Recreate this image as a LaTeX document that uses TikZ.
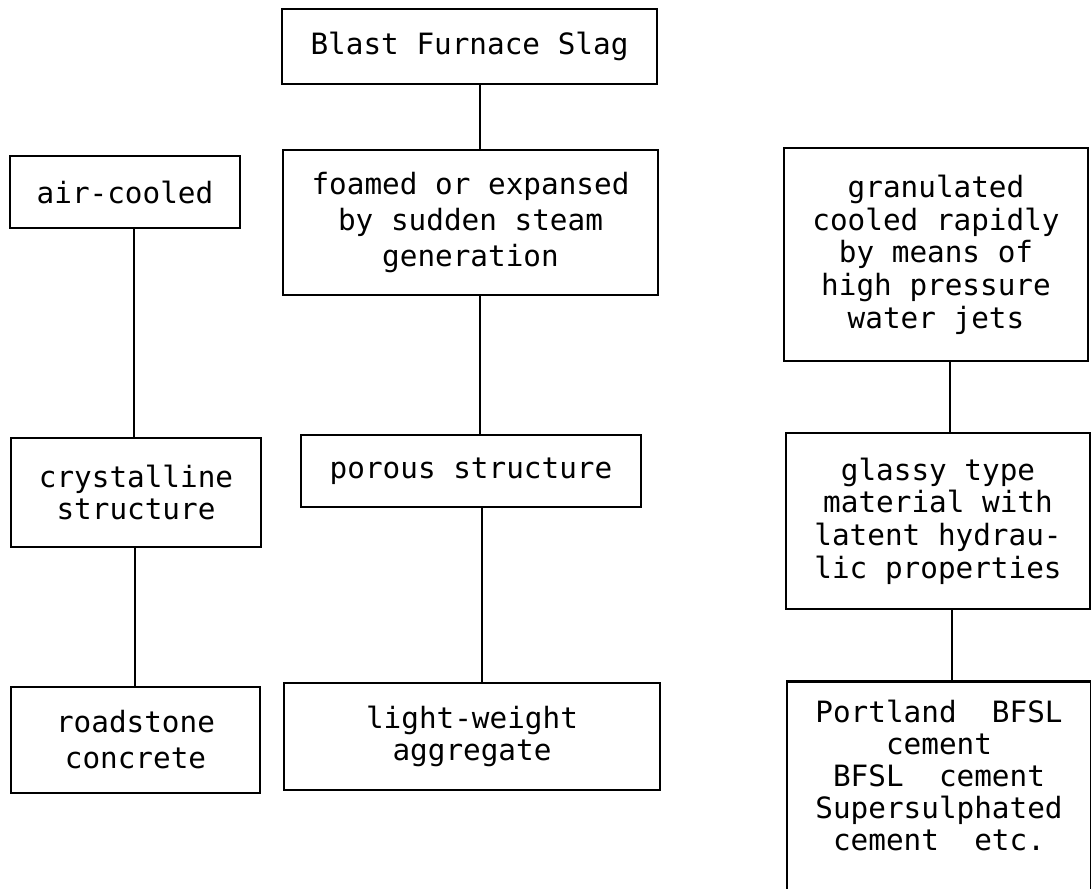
\documentclass[tikz,border=0pt]{standalone}
\usepackage{fontspec}
\setmonofont{DejaVu Sans Mono}

\tikzset{every picture/.style={line width=0.75pt}}
\tikzset{
  flowbox/.style={draw, line width=2pt, align=center, inner sep=0pt,
    font=\ttfamily\fontsize{22pt}{24.5pt}\selectfont},
  flowtext/.style={align=center, inner sep=0pt,
    font=\ttfamily\fontsize{22pt}{24pt}\selectfont},
  widelines/.style={font=\ttfamily\fontsize{22pt}{27pt}\selectfont},
  link/.style={line width=1.5pt}
}

\begin{document}
\begin{tikzpicture}[x=0.75pt,y=0.75pt,yscale=-1,xscale=1]
\useasboundingbox (0,0) rectangle (1091,888);
\clip (0,0) rectangle (1091,888);

%Shape: Rectangle
\node [flowbox, minimum width=281.25pt, minimum height=56.25pt] (slag) at (469.5,46.5) {Blast Furnace Slag};
%Shape: Rectangle
\node [flowbox, minimum width=172.5pt, minimum height=54pt] (aircool) at (125,192) {air-cooled};
%Shape: Rectangle
\node [flowbox, widelines, minimum width=281.25pt, minimum height=108.75pt] (foamed) at (470.5,222.5) {foamed or expansed\\by sudden steam\\generation};
%Shape: Rectangle
\node [flowbox, minimum width=228pt, minimum height=159.75pt] (granul) at (936,254.5) {granulated\\cooled rapidly\\by means of\\high pressure\\water jets};
%Shape: Rectangle
\node [flowbox, minimum width=187.5pt, minimum height=81.75pt] (crystal) at (136,492.5) {crystalline\\structure};
%Shape: Rectangle
\node [flowbox, minimum width=255pt, minimum height=54pt] (porous) at (471,471) {porous structure};
%Shape: Rectangle
\node [flowbox, minimum width=228pt, minimum height=132pt] (glassy) at (938,521) {glassy type\\material with\\latent hydrau-\\lic properties};
%Shape: Rectangle
\node [flowbox, widelines, minimum width=186.75pt, minimum height=79.5pt] (roadst) at (135.5,740) {roadstone\\concrete};
%Shape: Rectangle
\node [flowbox, minimum width=282pt, minimum height=80.25pt] (lightw) at (472,736.5) {light-weight\\aggregate};
%Shape: Rectangle (runs off the page)
\node [flowbox, anchor=north, minimum width=228pt, minimum height=187.5pt] (cementbox) at (939,680) {};
% Text Node
\node [flowtext] (cement) at (939,775) {Portland\ \ BFSL\\cement\\BFSL\ \ cement\\Supersulphated\\cement\ \ etc.};

%Straight Lines
\draw [link] (slag.south -| 480,0) -- (foamed.north -| 480,0);
%Straight Lines
\draw [link] (aircool.south -| 134,0) -- (crystal.north -| 134,0);
%Straight Lines
\draw [link] (crystal.south -| 135,0) -- (roadst.north -| 135,0);
%Straight Lines
\draw [link] (foamed.south -| 480,0) -- (porous.north -| 480,0);
%Straight Lines
\draw [link] (porous.south -| 482,0) -- (lightw.north -| 482,0);
%Straight Lines
\draw [link] (granul.south -| 950,0) -- (glassy.north -| 950,0);
%Straight Lines
\draw [link] (glassy.south -| 952,0) -- (cementbox.north -| 952,0);

\end{tikzpicture}
\end{document}
